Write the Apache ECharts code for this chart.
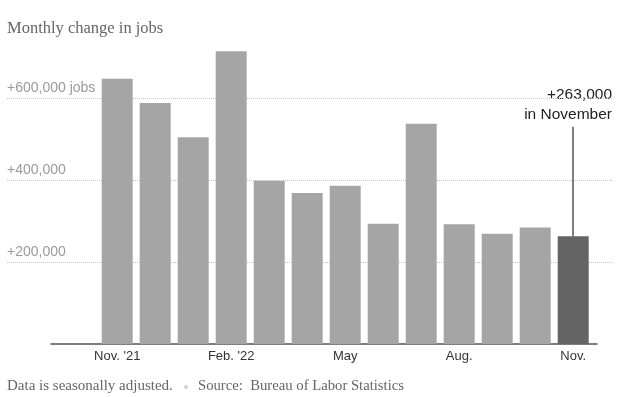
<!DOCTYPE html>
<html>
<head>
<meta charset="utf-8">
<script src="https://cdn.jsdelivr.net/npm/echarts@6/dist/echarts.min.js"></script>
<style>
  html, body { margin: 0; padding: 0; background: #fff; }
  #chart { width: 622px; height: 397px; }
</style>
</head>
<body>
<div id="chart"></div>
<script>
// monthly change in payrolls, Nov 2021 - Nov 2022
var months = ["Nov. '21", "Dec.", "Jan.", "Feb. '22", "March", "April", "May", "June", "July", "Aug.", "Sept.", "Oct.", "Nov."];
var jobs = [647000, 588000, 504000, 714000, 398000, 368000, 386000, 293000, 537000, 292000, 269000, 284000, 263000];
var labelIdx = [0, 3, 6, 9, 12];
var yTicks = [200000, 400000, 600000];

var last = jobs.length - 1;
var sans = 'Liberation Sans';
var serif = 'Liberation Serif';

function fmtJobs(v) {
    var s = '+' + v.toLocaleString('en-US');
    if (v === yTicks[yTicks.length - 1]) s += ' jobs';
    return s;
}

var barData = jobs.map(function (v, i) {
    return {
        value: [i, v],
        itemStyle: { color: i === last ? '#646464' : '#a5a5a5' }
    };
});

var myChart = echarts.init(document.getElementById('chart'));
myChart.setOption({
    animation: false,
    title: {
        text: 'Monthly change in jobs',
        left: 7,
        top: 20,
        padding: 0,
        textStyle: { fontFamily: serif, fontSize: 16.5, fontWeight: 'normal', color: '#666' }
    },
    grid: [
        // wide grid, only for the dotted gridlines + labels
        { left: 7, right: 10, top: 16, bottom: 53 },
        // bars
        { left: 51, right: 25, top: 16, bottom: 53 }
    ],
    xAxis: [
        { gridIndex: 0, type: 'value', show: false, min: 0, max: 1 },
        {
            gridIndex: 1,
            type: 'value',
            min: -1.742,
            max: 12.626,
            axisLine: { show: true, lineStyle: { color: '#555', width: 1.5 } },
            axisTick: { show: false },
            splitLine: { show: false },
            axisLabel: {
                customValues: labelIdx,
                formatter: function (v) { return months[v]; },
                fontFamily: sans,
                fontSize: 13,
                color: '#333',
                margin: 6
            }
        }
    ],
    yAxis: [
        {
            gridIndex: 0,
            type: 'value',
            min: 0,
            max: 800000,
            interval: 200000,
            axisLine: { show: false },
            axisTick: { show: false },
            splitLine: {
                show: true,
                showMinLine: false,
                showMaxLine: false,
                lineStyle: { type: 'dotted', color: '#c4c4c4', width: 1 }
            },
            axisLabel: {
                inside: true,
                margin: 0,
                verticalAlign: 'bottom',
                padding: [0, 0, 3, 0],
                showMinLabel: false,
                showMaxLabel: false,
                formatter: function (v) { return yTicks.indexOf(v) >= 0 ? fmtJobs(v) : ''; },
                fontFamily: sans,
                fontSize: 14,
                color: '#9a9a9a'
            }
        },
        {
            gridIndex: 1,
            type: 'value',
            min: 0,
            max: 800000,
            show: false,
            splitLine: { show: false }
        }
    ],
    series: [
        {
            type: 'bar',
            xAxisIndex: 1,
            yAxisIndex: 1,
            barWidth: 31,
            data: barData,
            markLine: {
                silent: true,
                symbol: ['none', 'none'],
                label: { show: false },
                lineStyle: { type: 'solid', color: '#555', width: 1.5 },
                data: [[
                    { coord: [last, jobs[last]] },
                    { coord: [last, 530000] }
                ]]
            }
        }
    ],
    graphic: [
        {
            type: 'text',
            x: 612,
            y: 85,
            style: {
                text: '+' + jobs[last].toLocaleString('en-US') + '\nin November',
                align: 'right',
                verticalAlign: 'top',
                fontFamily: sans,
                fontSize: 15.5,
                lineHeight: 20,
                fill: '#222'
            }
        },
        {
            type: 'text',
            left: 7,
            top: 379,
            style: {
                text: 'Data is seasonally adjusted.',
                fontFamily: serif,
                fontSize: 15,
                fill: '#666'
            }
        },
        {
            type: 'circle',
            shape: { cx: 186, cy: 387, r: 2 },
            style: { fill: '#d0d0d0' }
        },
        {
            type: 'text',
            left: 198,
            top: 379,
            style: {
                text: 'Source:  Bureau of Labor Statistics',
                fontFamily: serif,
                fontSize: 14.7,
                fill: '#666'
            }
        }
    ]
});
</script>
</body>
</html>
